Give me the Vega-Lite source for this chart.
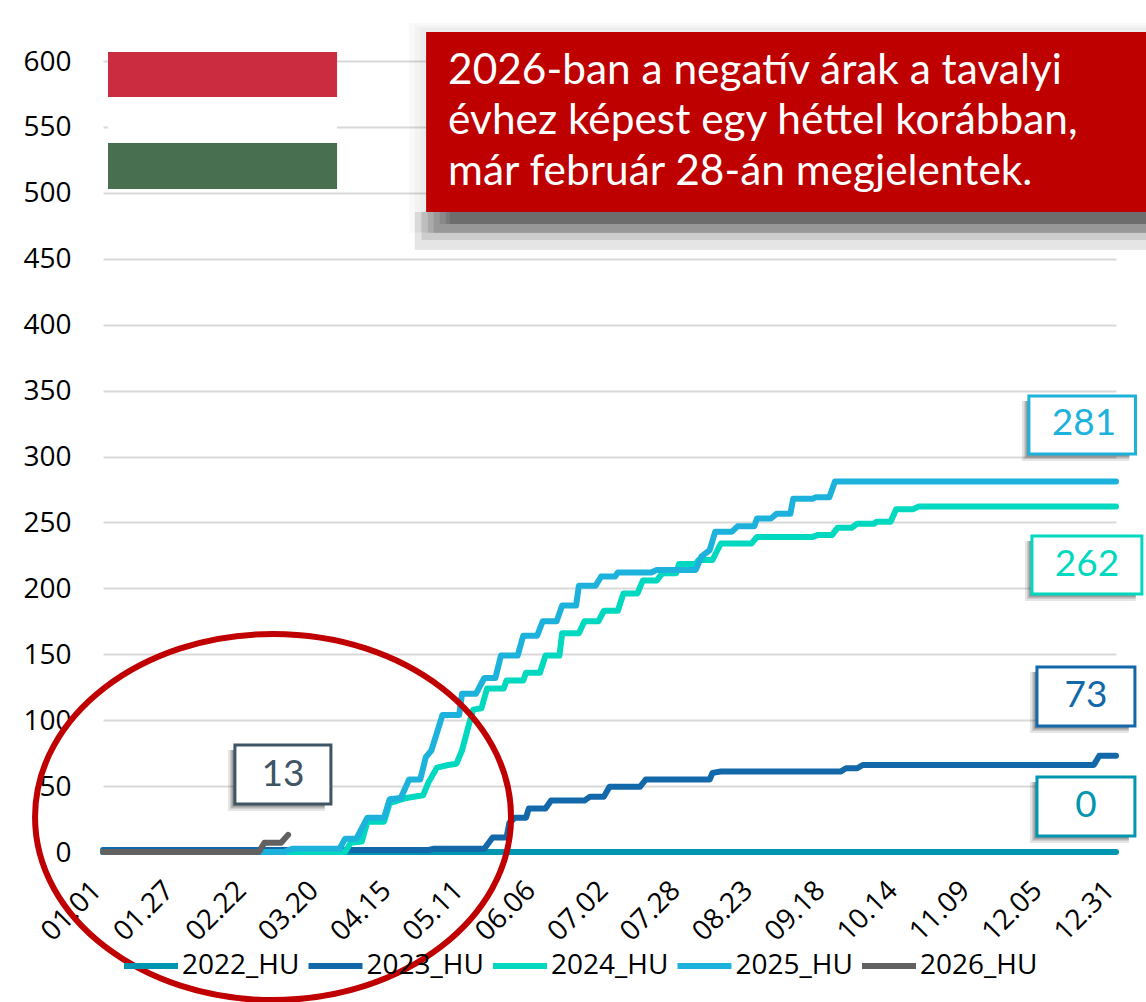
{
"$schema":"https://vega.github.io/schema/vega-lite/v6.json",
"width":1013,"height":791,"autosize":{"type":"none"},
"padding":{"left":103,"top":61,"right":30,"bottom":150},
"background":"white",
"config":{"view":{"stroke":null}},
"datasets":{
"lines":[
{"series":"2022_HU","day":1,"value":0},{"series":"2022_HU","day":365,"value":0},
{"series":"2023_HU","day":1,"value":1.5},{"series":"2023_HU","day":118,"value":1.5},{"series":"2023_HU","day":120,"value":2.5},{"series":"2023_HU","day":138,"value":2.5},{"series":"2023_HU","day":141,"value":11},{"series":"2023_HU","day":146,"value":11},{"series":"2023_HU","day":147,"value":22},{"series":"2023_HU","day":149,"value":26},{"series":"2023_HU","day":153,"value":26},{"series":"2023_HU","day":154,"value":33},{"series":"2023_HU","day":160,"value":33},{"series":"2023_HU","day":162,"value":39},{"series":"2023_HU","day":174,"value":39},{"series":"2023_HU","day":176,"value":42},{"series":"2023_HU","day":181,"value":42},{"series":"2023_HU","day":183,"value":49.5},{"series":"2023_HU","day":194,"value":49.5},{"series":"2023_HU","day":196,"value":55},{"series":"2023_HU","day":219,"value":55},{"series":"2023_HU","day":220,"value":60},{"series":"2023_HU","day":223,"value":61},{"series":"2023_HU","day":266,"value":61},{"series":"2023_HU","day":268,"value":63.5},{"series":"2023_HU","day":272,"value":63.5},{"series":"2023_HU","day":274,"value":66},{"series":"2023_HU","day":357,"value":66},{"series":"2023_HU","day":359,"value":73},{"series":"2023_HU","day":365,"value":73},
{"series":"2024_HU","day":1,"value":0},{"series":"2024_HU","day":88,"value":0},{"series":"2024_HU","day":90,"value":7},{"series":"2024_HU","day":94,"value":8},{"series":"2024_HU","day":96,"value":23},{"series":"2024_HU","day":102,"value":23},{"series":"2024_HU","day":104,"value":37},{"series":"2024_HU","day":110,"value":41},{"series":"2024_HU","day":116,"value":43},{"series":"2024_HU","day":118,"value":53},{"series":"2024_HU","day":121,"value":64},{"series":"2024_HU","day":125,"value":66},{"series":"2024_HU","day":128,"value":67},{"series":"2024_HU","day":130,"value":77},{"series":"2024_HU","day":132,"value":93},{"series":"2024_HU","day":134,"value":108},{"series":"2024_HU","day":137,"value":109},{"series":"2024_HU","day":139,"value":124},{"series":"2024_HU","day":145,"value":124},{"series":"2024_HU","day":146,"value":130},{"series":"2024_HU","day":152,"value":130},{"series":"2024_HU","day":153,"value":136},{"series":"2024_HU","day":158,"value":136},{"series":"2024_HU","day":160,"value":149},{"series":"2024_HU","day":165,"value":149},{"series":"2024_HU","day":166,"value":166},{"series":"2024_HU","day":172,"value":166},{"series":"2024_HU","day":174,"value":175},{"series":"2024_HU","day":179,"value":175},{"series":"2024_HU","day":181,"value":183},{"series":"2024_HU","day":186,"value":183},{"series":"2024_HU","day":188,"value":196},{"series":"2024_HU","day":193,"value":196},{"series":"2024_HU","day":195,"value":206},{"series":"2024_HU","day":200,"value":206},{"series":"2024_HU","day":202,"value":211.5},{"series":"2024_HU","day":207,"value":211.5},{"series":"2024_HU","day":208,"value":218.5},{"series":"2024_HU","day":214,"value":218.5},{"series":"2024_HU","day":215,"value":221.5},{"series":"2024_HU","day":220,"value":221.5},{"series":"2024_HU","day":223,"value":234},{"series":"2024_HU","day":234,"value":234},{"series":"2024_HU","day":236,"value":239},{"series":"2024_HU","day":256,"value":239},{"series":"2024_HU","day":258,"value":240.5},{"series":"2024_HU","day":263,"value":240.5},{"series":"2024_HU","day":265,"value":246},{"series":"2024_HU","day":270,"value":246},{"series":"2024_HU","day":272,"value":249},{"series":"2024_HU","day":278,"value":249},{"series":"2024_HU","day":279,"value":250.5},{"series":"2024_HU","day":284,"value":250.5},{"series":"2024_HU","day":286,"value":260},{"series":"2024_HU","day":292,"value":260},{"series":"2024_HU","day":294,"value":262},{"series":"2024_HU","day":365,"value":262},
{"series":"2025_HU","day":1,"value":0},{"series":"2025_HU","day":66,"value":0},{"series":"2025_HU","day":69,"value":2.5},{"series":"2025_HU","day":86,"value":2.5},{"series":"2025_HU","day":88,"value":10},{"series":"2025_HU","day":92,"value":10},{"series":"2025_HU","day":96,"value":26},{"series":"2025_HU","day":102,"value":26},{"series":"2025_HU","day":104,"value":40},{"series":"2025_HU","day":108,"value":41},{"series":"2025_HU","day":111,"value":55},{"series":"2025_HU","day":115,"value":55},{"series":"2025_HU","day":117,"value":72},{"series":"2025_HU","day":119,"value":77},{"series":"2025_HU","day":123,"value":104},{"series":"2025_HU","day":129,"value":104},{"series":"2025_HU","day":130,"value":120},{"series":"2025_HU","day":135,"value":120},{"series":"2025_HU","day":138,"value":132},{"series":"2025_HU","day":142,"value":132},{"series":"2025_HU","day":144,"value":149},{"series":"2025_HU","day":150,"value":149},{"series":"2025_HU","day":152,"value":164},{"series":"2025_HU","day":157,"value":164},{"series":"2025_HU","day":159,"value":175},{"series":"2025_HU","day":164,"value":175},{"series":"2025_HU","day":166,"value":187},{"series":"2025_HU","day":171,"value":187},{"series":"2025_HU","day":172,"value":202},{"series":"2025_HU","day":178,"value":202},{"series":"2025_HU","day":180,"value":209},{"series":"2025_HU","day":185,"value":209},{"series":"2025_HU","day":186,"value":212},{"series":"2025_HU","day":198,"value":212},{"series":"2025_HU","day":200,"value":214},{"series":"2025_HU","day":214,"value":214},{"series":"2025_HU","day":216,"value":224},{"series":"2025_HU","day":219,"value":229},{"series":"2025_HU","day":221,"value":243},{"series":"2025_HU","day":227,"value":243},{"series":"2025_HU","day":229,"value":247},{"series":"2025_HU","day":235,"value":247},{"series":"2025_HU","day":236,"value":253},{"series":"2025_HU","day":241,"value":253},{"series":"2025_HU","day":243,"value":256.5},{"series":"2025_HU","day":248,"value":256.5},{"series":"2025_HU","day":249,"value":268},{"series":"2025_HU","day":256,"value":268},{"series":"2025_HU","day":257,"value":269},{"series":"2025_HU","day":262,"value":269},{"series":"2025_HU","day":264,"value":281},{"series":"2025_HU","day":365,"value":281},
{"series":"2026_HU","day":1,"value":0},{"series":"2026_HU","day":57,"value":0},{"series":"2026_HU","day":59,"value":7},{"series":"2026_HU","day":65,"value":7},{"series":"2026_HU","day":67.5,"value":13}
],
"flag":[
{"band":"piros","d0":2.8,"d1":85.1,"v0":606.9,"v1":572.7},
{"band":"fehér","d0":2.8,"d1":85.1,"v0":572.7,"v1":537.8},
{"band":"zöld","d0":2.8,"d1":85.1,"v0":537.8,"v1":502.9}
],
"halo":[
{"d0":111,"d1":375.8,"v0":629,"v1":470},
{"d0":113,"d1":375.8,"v0":627,"v1":470},
{"d0":115,"d1":375.8,"v0":625,"v1":470}
],
"shadows":[
{"d0":113,"d1":375.8,"v0":485.5,"v1":456.6},
{"d0":115.5,"d1":375.8,"v0":485.5,"v1":464.2},
{"d0":117.7,"d1":375.8,"v0":485.5,"v1":469.6},
{"d0":119.8,"d1":375.8,"v0":485.5,"v1":469.6},
{"d0":122,"d1":375.8,"v0":485.5,"v1":476.4},
{"d0":124.2,"d1":375.8,"v0":485.5,"v1":476.4},
{"d0":125.6,"d1":375.8,"v0":485.5,"v1":476.4},
{"d0":331.2,"d1":369.8,"v0":342.1,"v1":296.6},{"d0":331.9,"d1":369.8,"v0":342.1,"v1":298.1},{"d0":332.3,"d1":369.8,"v0":342.1,"v1":298.9},{"d0":332.6,"d1":369.8,"v0":342.1,"v1":299.6},{"d0":332.9,"d1":369.8,"v0":342.1,"v1":300.2},
{"d0":332.3,"d1":372.1,"v0":235.9,"v1":190.4},{"d0":333,"d1":372.1,"v0":235.9,"v1":191.9},{"d0":333.4,"d1":372.1,"v0":235.9,"v1":192.7},{"d0":333.7,"d1":372.1,"v0":235.9,"v1":193.4},{"d0":334,"d1":372.1,"v0":235.9,"v1":194},
{"d0":334.1,"d1":369.6,"v0":136.5,"v1":90.3},{"d0":334.8,"d1":369.6,"v0":136.5,"v1":91.8},{"d0":335.2,"d1":369.6,"v0":136.5,"v1":92.6},{"d0":335.5,"d1":369.6,"v0":136.5,"v1":93.3},{"d0":335.8,"d1":369.6,"v0":136.5,"v1":93.9},
{"d0":334.1,"d1":369.6,"v0":53.1,"v1":6.8},{"d0":334.8,"d1":369.6,"v0":53.1,"v1":8.3},{"d0":335.2,"d1":369.6,"v0":53.1,"v1":9.1},{"d0":335.5,"d1":369.6,"v0":53.1,"v1":9.8},{"d0":335.8,"d1":369.6,"v0":53.1,"v1":10.4},
{"d0":45.9,"d1":80.7,"v0":77.4,"v1":31.1},{"d0":46.6,"d1":80.7,"v0":77.4,"v1":32.6},{"d0":47,"d1":80.7,"v0":77.4,"v1":33.4},{"d0":47.3,"d1":80.7,"v0":77.4,"v1":34.1},{"d0":47.6,"d1":80.7,"v0":77.4,"v1":34.7}
],
"boxes":[
{"series":"2025_HU","label":"281","d0":333.7,"d1":372,"v0":345.9,"v1":301.9,"dc":353.5,"vc":324.7},
{"series":"2024_HU","label":"262","d0":334.8,"d1":374.3,"v0":239.7,"v1":195.7,"dc":354.6,"vc":217.7},
{"series":"2023_HU","label":"73","d0":336.6,"d1":371.8,"v0":140.3,"v1":95.6,"dc":354.2,"vc":118.3},
{"series":"2022_HU","label":"0","d0":336.6,"d1":371.8,"v0":56.9,"v1":12.1,"dc":354.2,"vc":34.9},
{"series":"2026_HU","label":"13","d0":48.4,"d1":82.9,"v0":81.2,"v1":36.4,"dc":65.7,"vc":58.4}
],
"callout":[{"d0":117.1,"d1":375.8,"v0":622,"v1":485.5}],
"calloutText":[
{"line":"2026-ban a negatív árak a tavalyi","d":125,"v":592.1},
{"line":"évhez képest egy héttel korábban,","d":125,"v":554.2},
{"line":"már február 28-án megjelentek.","d":125,"v":515.5}
],
"ring":[{"d":62.1,"v":26.5}]
},
"layer":[
{"data":{"name":"flag"},"mark":{"type":"rect"},
"encoding":{
"x":{"field":"d0","type":"quantitative","scale":{"domain":[1,365],"nice":false,"zero":false},
"axis":{"values":[1,27,53,79,105,131,157,183,209,235,261,287,313,339,365],"labelExpr":"utcFormat(datetime(2025,0,datum.value),'%m.%d')","title":null,"grid":false,"ticks":false,"domain":false,"labelAngle":-45,"labelAlign":"right","labelBaseline":"top","labelPadding":24,"labelOffset":-16,"labelFont":"Open Sans","labelFontSize":28,"labelColor":"#000000","labelOverlap":false,"labelBound":false,"labelFlush":false}},
"x2":{"field":"d1"},
"y":{"field":"v0","type":"quantitative","scale":{"domain":[0,600],"nice":false},
"axis":{"values":[0,50,100,150,200,250,300,350,400,450,500,550,600],"title":null,"grid":true,"gridColor":"#d9d9d9","gridWidth":2,"ticks":false,"domain":false,"labelPadding":32,"labelOffset":1,"labelFont":"Open Sans","labelFontSize":28,"labelColor":"#000000","labelOverlap":false}},
"y2":{"field":"v1"},
"fill":{"field":"band","type":"nominal","scale":{"domain":["piros","fehér","zöld","2022_HU","2023_HU","2024_HU","2025_HU","2026_HU"],"range":["#CB2C40","#FFFFFF","#476F50","#0096B2","#1368AA","#00D8C0","#1CB2DC","#3F5565"]},"legend":null}
}},
{"data":{"name":"lines"},"mark":{"type":"line","strokeWidth":6,"strokeCap":"round","strokeJoin":"round"},
"encoding":{
"x":{"field":"day","type":"quantitative"},
"y":{"field":"value","type":"quantitative"},
"color":{"field":"series","type":"nominal","scale":{"domain":["2022_HU","2023_HU","2024_HU","2025_HU","2026_HU"],"range":["#0096B2","#1368AA","#00D8C0","#1CB2DC","#616161"]},
"legend":{"title":null,"orient":"none","legendX":18,"legendY":875,"direction":"horizontal","columns":5,"symbolType":"stroke","symbolSize":2916,"symbolStrokeWidth":6,"labelFont":"Open Sans","labelFontSize":28,"labelColor":"#000000","labelOffset":1,"columnPadding":-3.5,"symbolOpacity":1}},
"order":{"field":"day","type":"quantitative"}
}},
{"data":{"name":"halo"},"mark":{"type":"rect","fill":"#000000","opacity":0.025},
"encoding":{"x":{"field":"d0","type":"quantitative"},"x2":{"field":"d1"},"y":{"field":"v0","type":"quantitative"},"y2":{"field":"v1"}}},
{"data":{"name":"shadows"},"mark":{"type":"rect","fill":"#000000","opacity":0.1},
"encoding":{"x":{"field":"d0","type":"quantitative"},"x2":{"field":"d1"},"y":{"field":"v0","type":"quantitative"},"y2":{"field":"v1"}}},
{"data":{"name":"boxes"},"mark":{"type":"rect","fill":"#FFFFFF","strokeWidth":3},
"encoding":{"x":{"field":"d0","type":"quantitative"},"x2":{"field":"d1"},"y":{"field":"v0","type":"quantitative"},"y2":{"field":"v1"},
"stroke":{"field":"series","type":"nominal","scale":{"domain":["2022_HU","2023_HU","2024_HU","2025_HU","2026_HU"],"range":["#0096B2","#1368AA","#00D8C0","#1CB2DC","#3F5565"]},"legend":null}}},
{"data":{"name":"boxes"},"mark":{"type":"text","font":"Lato","fontSize":37,"align":"center","baseline":"middle"},
"encoding":{"x":{"field":"dc","type":"quantitative"},"y":{"field":"vc","type":"quantitative"},"text":{"field":"label"},
"fill":{"field":"series","type":"nominal","legend":null}}},
{"data":{"name":"callout"},"mark":{"type":"rect","fill":"#BE0000"},
"encoding":{"x":{"field":"d0","type":"quantitative"},"x2":{"field":"d1"},"y":{"field":"v0","type":"quantitative"},"y2":{"field":"v1"}}},
{"data":{"name":"calloutText"},"mark":{"type":"text","font":"Lato","fontSize":42.4,"align":"left","baseline":"middle","color":"#FFFFFF"},
"encoding":{"x":{"field":"d","type":"quantitative"},"y":{"field":"v","type":"quantitative"},"text":{"field":"line"}}},
{"data":{"name":"ring"},"mark":{"type":"point","shape":"M-1,0 A1,0.769 0 1 1 1,0 A1,0.769 0 1 1 -1,0 Z","size":226576,"filled":false,"stroke":"#C00000","strokeWidth":6,"opacity":1},
"encoding":{"x":{"field":"d","type":"quantitative"},"y":{"field":"v","type":"quantitative"}}}
]
}
